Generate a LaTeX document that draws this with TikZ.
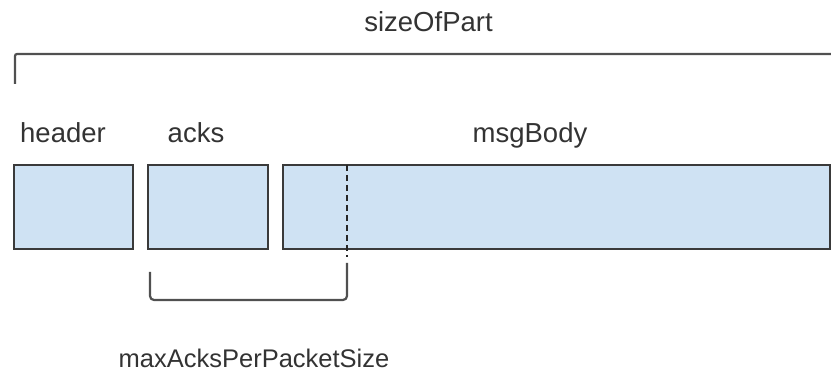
\documentclass[tikz,border=0pt]{standalone}
\usepackage{fontspec}
\setmainfont{Liberation Sans}
\definecolor{boxfill}{HTML}{CFE2F3}
\definecolor{boxline}{HTML}{3A3A3A}
\definecolor{brace}{HTML}{505050}
\begin{document}
\begin{tikzpicture}[x=1pt,y=-1pt,
  field/.style={draw=boxline,line width=2.3pt,fill=boxfill},
  bracket/.style={draw=brace,line width=2.2pt,rounded corners=4pt},
  lbl/.style={anchor=base,inner sep=0pt,font=\fontsize{27.5}{32}\selectfont,text=black!80}]
\useasboundingbox (0,0) rectangle (831,374);
% field boxes
\path[field] (14,165) rectangle (133,249);
\path[field] (148,165) rectangle (268,249);
\path[field] (283,165) rectangle (830,249);
\coordinate (dtop) at (347,165);
\coordinate (dbot) at (347,257);
\draw[black!85,line width=2pt,dash pattern=on 6pt off 4pt] (dtop) -- (dbot);
% labels
\node[lbl] (size) at (428.5,32) {sizeOfPart};
\node[lbl] (hdr) at (63,143) {header};
\node[lbl] (acks) at (196,143) {acks};
\node[lbl] (body) at (530,143) {msgBody};
\node[lbl,font=\fontsize{25.5}{30}\selectfont] (maxa) at (254,368) {maxAcksPerPacketSize};
% brackets
\coordinate (t1) at (15,84);
\coordinate (t2) at (15,54);
\coordinate (t3) at (833,54);
\draw[bracket,rounded corners=2pt] (t1) -- (t2) -- (t3);
\coordinate (b1) at (150,272);
\coordinate (b2) at (150,300);
\coordinate (b3) at (347,300);
\coordinate (b4) at (347,263);
\draw[bracket] (b1) -- (b2) -- (b3) -- (b4);
\end{tikzpicture}
\end{document}
